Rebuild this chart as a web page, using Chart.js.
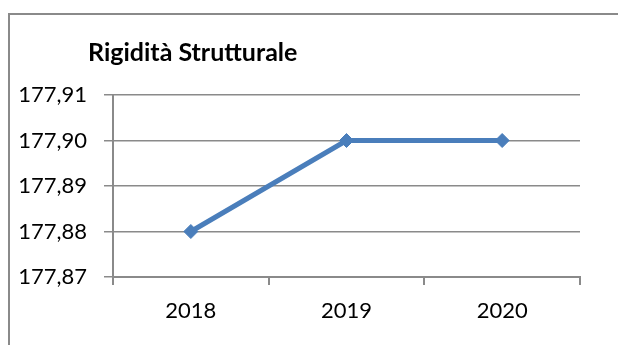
<!DOCTYPE html>
<html>
<head>
<meta charset="utf-8">
<script src="https://cdn.jsdelivr.net/npm/chart.js@4/dist/chart.umd.min.js"></script>
<style>
  html, body { margin: 0; padding: 0; background: #fff; }
  body { width: 618px; height: 345px; position: relative; overflow: hidden; }
  #frame {
    position: absolute; left: 8px; top: 13px; width: 640px; height: 360px;
    border-top: 2px solid #8a8a8a; border-left: 2px solid #8a8a8a;
  }
  #chart { position: absolute; left: 0; top: 0; }
</style>
</head>
<body>
<div id="frame"></div>
<canvas id="chart" width="618" height="345"></canvas>
<script>
const title = "Rigidità Strutturale";
const years = ["2018", "2019", "2020"];
const rigidity = [177.88, 177.90, 177.90];
const yTicks = [177.87, 177.88, 177.89, 177.90, 177.91];

const BLUE = "#4a7ebb";
const GREY = "#8a8a8a";
const FONT = "Lato";

// title sits left of the plot area, so draw it ourselves
const leftTitle = {
  id: "leftTitle",
  afterDraw(chart) {
    const c = chart.ctx;
    c.save();
    c.font = "bold 25px " + FONT;
    c.fillStyle = "#000";
    c.textAlign = "left";
    c.textBaseline = "alphabetic";
    c.fillText(title, 88, 61);
    c.restore();
  }
};

const ctx = document.getElementById("chart").getContext("2d");

new Chart(ctx, {
  type: "line",
  data: {
    labels: years,
    datasets: [{
      data: rigidity,
      borderColor: BLUE,
      backgroundColor: BLUE,
      borderWidth: 5,
      pointStyle: "rectRot",
      pointRadius: 7,
      pointBorderWidth: 1,
      pointBackgroundColor: BLUE,
      pointBorderColor: BLUE,
      tension: 0
    }]
  },
  options: {
    responsive: false,
    animation: false,
    layout: { padding: { left: 8, right: 38, top: 95, bottom: 0 } },
    plugins: {
      legend: { display: false },
      tooltip: { enabled: false },
      title: { display: false }
    },
    scales: {
      x: {
        offset: true,
        grid: { offset: true, drawOnChartArea: false, drawTicks: true, tickLength: 8, color: GREY, lineWidth: 2 },
        border: { color: GREY, width: 2 },
        ticks: { color: "#000", font: { family: FONT, size: 22 }, padding: 13, maxRotation: 0 },
        afterFit: s => { s.height = 68; }
      },
      y: {
        min: yTicks[0],
        max: yTicks[yTicks.length - 1],
        afterBuildTicks: s => { s.ticks = yTicks.map(v => ({ value: v })); },
        grid: { drawTicks: true, tickLength: 9, color: GREY, lineWidth: 1.5 },
        border: { color: GREY, width: 2 },
        ticks: {
          color: "#000",
          font: { family: FONT, size: 22 },
          padding: 17,
          callback: v => v.toFixed(2).replace(".", ",")
        },
        afterFit: s => { s.width = 105; }
      }
    }
  },
  plugins: [leftTitle]
});
</script>
</body>
</html>
